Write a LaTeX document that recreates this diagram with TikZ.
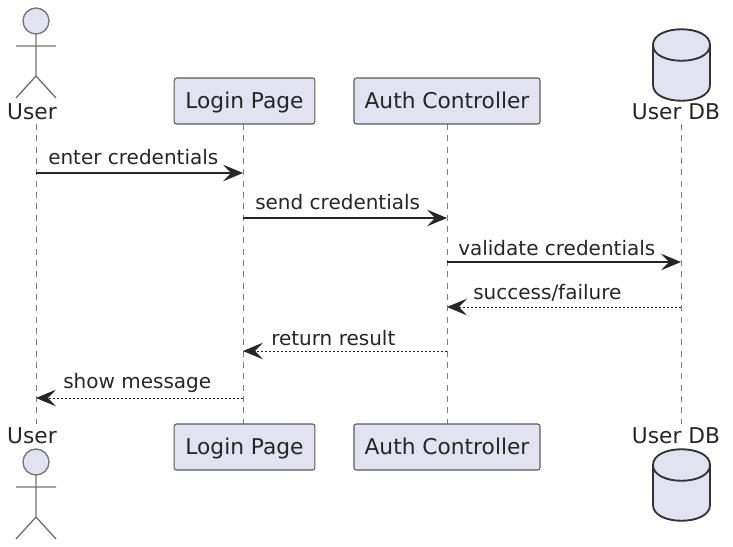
\documentclass[tikz,border=0pt]{standalone}
\usepackage{fontspec}
\setmainfont{DejaVu Sans}
\usetikzlibrary{arrows.meta}
\definecolor{partfill}{HTML}{E2E2F0}
\definecolor{partline}{HTML}{5A5A5A}
\newcommand{\SEQactor}[1]{
  \draw[actorline,fill=partfill] (36,#1) circle (13);
  \draw[actorline] (36,#1+13)--(36,#1+55) (16,#1+25)--(56,#1+25)
    (16,#1+77)--(36,#1+55)--(56,#1+77);}
\newcommand{\SEQdb}[1]{
  \draw[dbline,fill=partfill] (653,#1+16) .. controls (653,#1-5) and (710,#1-5) .. (710,#1+16)
    -- (710,#1+56) .. controls (710,#1+77) and (653,#1+77) .. (653,#1+56) -- cycle;
  \draw[dbline] (653,#1+16) .. controls (653,#1+37) and (710,#1+37) .. (710,#1+16);}
\tikzset{
  x=0.75pt,y=-0.75pt,
  actorline/.style={draw=partline!85,line width=1pt},
  dbline/.style={draw=black!80,line width=1.4pt},
  partbox/.style={draw=partline,fill=partfill,rounded corners=1.8pt,line width=0.8pt,
    minimum height=34.5pt,inner xsep=0pt,inner ysep=0pt,text height=13.5pt,text depth=2pt,
    font=\fontsize{16.3}{18}\selectfont,text=black!85},
  partname/.style={inner sep=0pt,font=\fontsize{16.3}{18}\selectfont,text=black!85},
  msglabel/.style={anchor=west,inner sep=0pt,font=\fontsize{15}{17}\selectfont,text=black!85},
  lifeline/.style={draw=black!50,line width=0.7pt,dash pattern=on 4.5pt off 4pt},
  callmsg/.style={draw=black!85,line width=1pt,-{Stealth[length=15pt,width=12.5pt,inset=6pt]}},
  backmsg/.style={callmsg,line width=0.7pt,dash pattern=on 1.5pt off 1.5pt},
}
\begin{document}
\begin{tikzpicture}
  \useasboundingbox (0,0) rectangle (733,547);
  \foreach\n/\x in{user/36,login/243,auth/447,db/681}{
    \coordinate (\n top) at (\x,124);
    \coordinate (\n bot) at (\x,424);
    \draw[lifeline] (\n top)--(\n bot);
    \foreach\y in{173,218,262,307,351,398}{\coordinate (\n\y) at (\x,\y);}
  }
  % top row
  \SEQactor{21}
  \node[partname] (usera) at (32,112) {User};
  \node[partbox,minimum width=105.5pt] (logina) at (244.5,101) {Login Page};
  \node[partbox,minimum width=139.5pt] (autha) at (447,101) {Auth Controller};
  \SEQdb{29}
  \node[partname] (dba) at (676,112) {User DB};
  % bottom row
  \SEQactor{462}
  \node[partname] (userb) at (32,436) {User};
  \node[partbox,minimum width=105.5pt] (loginb) at (244.5,447) {Login Page};
  \node[partbox,minimum width=139.5pt] (authb) at (447,447) {Auth Controller};
  \SEQdb{449}
  \node[partname] (dbb) at (676,436) {User DB};
  % messages
  \draw[callmsg] (user173)--(login173);
  \node[msglabel] (m1) at (48,157) {enter credentials};
  \draw[callmsg] (login218)--(auth218);
  \node[msglabel] (m2) at (255,202) {send credentials};
  \draw[callmsg] (auth262)--(db262);
  \node[msglabel] (m3) at (458,248) {validate credentials};
  \draw[backmsg] (db307)--(auth307);
  \node[msglabel] (m4) at (473,293) {success/failure};
  \draw[backmsg] (auth351)--(login351);
  \node[msglabel] (m5) at (271,338) {return result};
  \draw[backmsg] (login398)--(user398);
  \node[msglabel] (m6) at (63,383) {show message};
\end{tikzpicture}
\end{document}
